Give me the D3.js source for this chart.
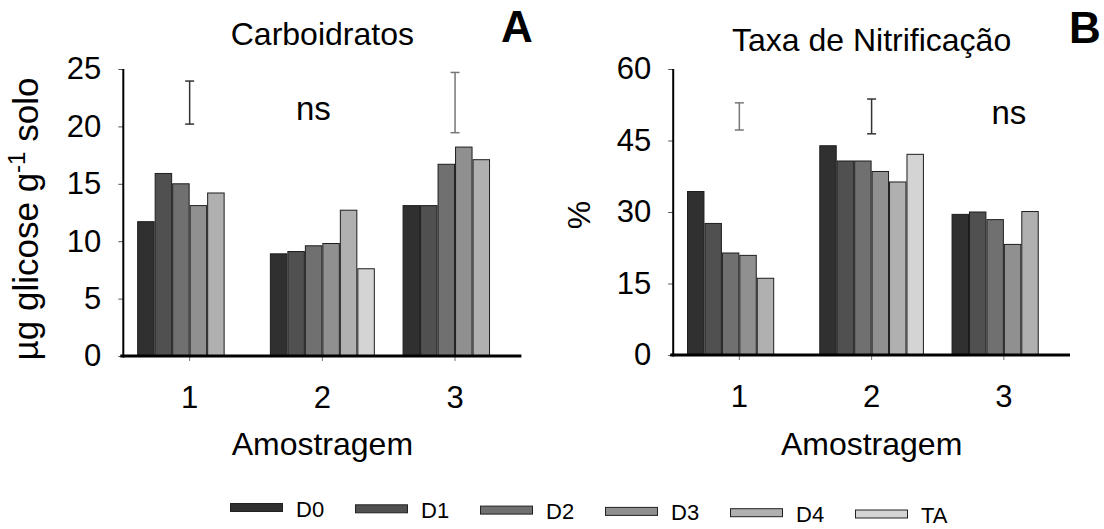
<!DOCTYPE html>
<html><head><meta charset="utf-8">
<script src="https://cdn.jsdelivr.net/npm/d3@7"></script>
<style>
html,body{margin:0;padding:0;background:#fff;}
svg{display:block;font-family:"Liberation Sans",Arial,sans-serif;}
</style></head>
<body>
<svg id="chart" width="1104" height="529"></svg>
<script>
// ---- data ----
const categories = ["1", "2", "3"];
const series = ["D0", "D1", "D2", "D3", "D4", "TA"];
// rows = amostragem 1..3, columns = D0..TA (null = not shown)
const carboidratos = [
  [11.7, 15.9, 15.0, 13.1, 14.2, null],
  [8.9, 9.1, 9.6, 9.8, 12.7, 7.6],
  [13.1, 13.1, 16.7, 18.2, 17.1, null]
];
const nitrificacao = [
  [34.3, 27.6, 21.4, 20.9, 16.1, null],
  [43.9, 40.7, 40.7, 38.5, 36.3, 42.1],
  [29.5, 30.0, 28.4, 23.2, 30.1, null]
];
const carbTicks = [0, 5, 10, 15, 20, 25];
const nitTicks = [0, 15, 30, 45, 60];
// LSD-type bars: [category, low, high]
const carbErrors = [["1", 20.2, 23.95], ["3", 19.45, 24.7]];
const nitErrors = [["1", 47.2, 52.9], ["2", 46.4, 53.7]];
const carbNs = ["2", 20.6];
const nitNs = ["3", 48.4];

// ---- styles ----
const fills = ["#303030", "#505050", "#707070", "#909090", "#b0b0b0", "#d4d4d4"];
const errColorsA = ["#333", "#777"];
const errColorsB = ["#777", "#333"];

const svg = d3.select("#chart");

function panel(opts) {
  const g = svg.append("g");
  const x0 = d3.scaleBand().domain(categories).range(opts.xRange)
    .paddingInner(0.209).paddingOuter(0.1045);
  const x1 = d3.scaleBand().domain(series).range([0, x0.bandwidth()]).padding(0);
  const y = d3.scaleLinear().domain(opts.yDomain).range(opts.yRange);
  const y0 = y(0);

  // bars
  const grp = g.selectAll("g.grp").data(opts.values).join("g")
    .attr("transform", (d, i) => `translate(${x0(categories[i])},0)`);
  grp.selectAll("rect").data(d => d.map((v, j) => ({v, s: series[j], j})).filter(o => o.v != null))
    .join("rect")
    .attr("x", d => x1(d.s) + 0.5)
    .attr("width", x1.bandwidth() - 1)
    .attr("y", d => y(d.v))
    .attr("height", d => y0 - y(d.v))
    .attr("fill", d => fills[d.j])
    .attr("stroke", "#1e1e1e")
    .attr("stroke-width", 1);

  // y axis ticks
  const ya = g.append("g").attr("transform", `translate(${opts.xRange[0]},0)`)
    .call(d3.axisLeft(y).tickValues(opts.ticks).tickSize(5).tickPadding(17).tickSizeOuter(0));
  ya.select(".domain").remove();
  ya.selectAll("line").attr("stroke", "#555");
  ya.selectAll("text").attr("font-size", 31).attr("fill", "#000")
    .attr("font-family", "Liberation Sans, Arial, sans-serif");

  // x axis ticks
  const xa = g.append("g").attr("transform", `translate(0,${y0})`)
    .call(d3.axisBottom(x0).tickSize(5).tickPadding(25).tickSizeOuter(0));
  xa.select(".domain").remove();
  xa.selectAll("line").attr("stroke", "#777");
  xa.selectAll("text").attr("font-size", 31).attr("fill", "#000")
    .attr("font-family", "Liberation Sans, Arial, sans-serif");

  // axis lines
  g.append("line").attr("x1", opts.xRange[0]).attr("x2", opts.xRange[0])
    .attr("y1", y(opts.yDomain[1])).attr("y2", y0 + 1.5)
    .attr("stroke", "#000").attr("stroke-width", 2);
  g.append("line").attr("x1", opts.xRange[0] - 3).attr("x2", opts.xRange[1])
    .attr("y1", y0).attr("y2", y0)
    .attr("stroke", "#000").attr("stroke-width", 3);

  // error bars
  opts.errors.forEach((e, i) => {
    const cx = x0(e[0]) + x0.bandwidth() / 2;
    const col = opts.errColors[i];
    const eg = g.append("g").attr("stroke", col).attr("stroke-width", 1.5);
    eg.append("line").attr("x1", cx).attr("x2", cx).attr("y1", y(e[1])).attr("y2", y(e[2]));
    eg.append("line").attr("x1", cx - 4.5).attr("x2", cx + 4.5).attr("y1", y(e[1])).attr("y2", y(e[1]));
    eg.append("line").attr("x1", cx - 4.5).attr("x2", cx + 4.5).attr("y1", y(e[2])).attr("y2", y(e[2]));
  });

  // ns
  g.append("text").attr("x", x0(opts.ns[0]) + x0.bandwidth() / 2 + opts.nsDx)
    .attr("y", y(opts.ns[1])).attr("text-anchor", "middle")
    .attr("font-size", 33).text("ns");

  const cx = (opts.xRange[0] + opts.xRange[1]) / 2;
  // title
  g.append("text").attr("x", cx).attr("y", opts.titleY).attr("text-anchor", "middle")
    .attr("font-size", 32).text(opts.title);
  // letter
  g.append("text").attr("x", opts.letterX).attr("y", opts.letterY)
    .attr("font-size", 44).attr("font-weight", "bold").text(opts.letter);
  // x label
  g.append("text").attr("x", cx).attr("y", 455).attr("text-anchor", "middle")
    .attr("font-size", 32).text("Amostragem");
  return g;
}

const gA = panel({
  xRange: [123.3, 521.4], yDomain: [0, 25], yRange: [356, 69],
  values: carboidratos, ticks: carbTicks, errors: carbErrors, errColors: errColorsA,
  ns: carbNs, nsDx: -9, title: "Carboidratos", titleY: 44.5,
  letter: "A", letterX: 501, letterY: 42
});
const gB = panel({
  xRange: [673.2, 1070], yDomain: [0, 60], yRange: [355, 69],
  values: nitrificacao, ticks: nitTicks, errors: nitErrors, errColors: errColorsB,
  ns: nitNs, nsDx: 5, title: "Taxa de Nitrificação", titleY: 51,
  letter: "B", letterX: 1069, letterY: 43
});

// y labels
const yl = gA.append("text").attr("transform", "translate(38,219) rotate(-90)")
  .attr("text-anchor", "middle").attr("font-size", 35);
yl.append("tspan").text("µg glicose g");
yl.append("tspan").attr("font-size", 24).attr("dy", -13).text("-1");
yl.append("tspan").attr("dy", 13).text(" solo");

gB.append("text").attr("transform", "translate(590,215) rotate(-90)")
  .attr("text-anchor", "middle").attr("font-size", 32).text("%");

// legend
const lx = d3.scaleLinear().domain([0, series.length - 1]).range([230, 855]);
const ly = d3.scaleLinear().domain([0, series.length - 1]).range([503, 509.5]);
const leg = svg.append("g").selectAll("g").data(series).join("g")
  .attr("transform", (d, i) => `translate(${lx(i)},${ly(i)})`);
leg.append("rect").attr("x", 0.5).attr("y", 0.5).attr("width", 52).attr("height", 8)
  .attr("fill", (d, i) => fills[i]).attr("stroke", "#222").attr("stroke-width", 1);
leg.append("text").attr("x", 66).attr("y", 13.5).attr("font-size", 22).text(d => d);
</script>
</body></html>
